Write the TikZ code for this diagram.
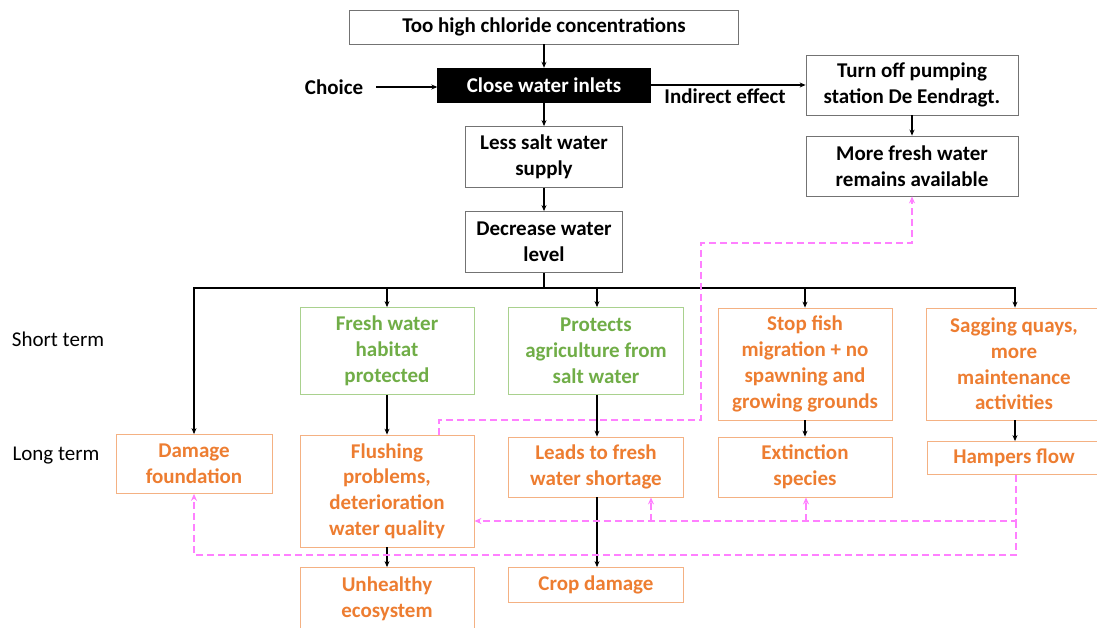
\documentclass[tikz,border=0pt]{standalone}
\usepackage{fontspec}
\setmainfont{Carlito}
\usetikzlibrary{arrows.meta, positioning}
\definecolor{leafgreen}{RGB}{112,173,71}
\definecolor{lightgreen}{RGB}{169,209,142}
\definecolor{rust}{RGB}{237,125,49}
\definecolor{peach}{RGB}{244,177,131}
\definecolor{pinkline}{RGB}{255,128,255}

\begin{document}
\begin{tikzpicture}[x=1pt,y=-1pt,
   >={Stealth[length=6pt,width=5pt]},
   every node/.style={font=\fontsize{21}{25.8}\selectfont\bfseries, align=center, inner sep=2pt},
   box/.style={draw=black!55, line width=0.8pt},
   blackbox/.style={fill=black, draw=black, text=white},
   greenbox/.style={draw=lightgreen, line width=0.8pt, text=leafgreen},
   orangebox/.style={draw=peach, line width=0.8pt, text=rust},
   flow/.style={->, line width=1.5pt},
   bus/.style={->, line width=2pt},
   pinkarrow/.style={-{Stealth[length=7pt,width=6pt]}, pinkline, line width=1.6pt, dash pattern=on 7pt off 4pt}]
   \useasboundingbox (0,0) rectangle (1097,628);
   \clip (0,0) rectangle (1097,628);
   % top chain
   \node[box, minimum width=389, minimum height=34] (chloride) at (544,27) {Too high chloride concentrations};
   \node[blackbox, minimum width=213, minimum height=34] (close) at (544,85) {Close water inlets};
   \node (choice) at (334,87) {Choice};
   \node[box, minimum width=212, minimum height=60] (pump) at (912,85) {Turn off pumping\\station De Eendragt.};
   \node[box, minimum width=212, minimum height=60] (morefresh) at (912,166) {More fresh water\\remains available};
   \node[box, minimum width=157, minimum height=61] (lesssalt) at (544,157) {Less salt water\\supply};
   \node[box, minimum width=157, minimum height=61] (decrease) at (544,242) {Decrease water\\level};
   % row labels
   \node[font=\fontsize{21}{25.8}\selectfont] (shortterm) at (58,339) {Short term};
   \node[font=\fontsize{21}{25.8}\selectfont] (longterm) at (56,456) {Long term};
   % short term
   \node[greenbox, minimum width=174, minimum height=87] (fresh) at (387,351) {Fresh water\\habitat\\protected};
   \node[greenbox, minimum width=175, minimum height=87] (protects) at (596,351) {Protects\\agriculture from\\salt water};
   \node[orangebox, minimum width=174, minimum height=112] (stopfish) at (805,364) {Stop fish\\migration + no\\spawning and\\growing grounds};
   \node[orangebox, minimum width=175, minimum height=112] (sagging) at (1014,364) {Sagging quays,\\more\\maintenance\\activities};
   % long term
   \node[orangebox, minimum width=156, minimum height=59] (damage) at (194,464) {Damage\\foundation};
   \node[orangebox, minimum width=174, minimum height=112] (flushing) at (387,491) {Flushing\\problems,\\deterioration\\water quality};
   \node[orangebox, minimum width=175, minimum height=60] (shortage) at (596,467) {Leads to fresh\\water shortage};
   \node[orangebox, minimum width=174, minimum height=60] (extinction) at (805,467) {Extinction\\species};
   \node[orangebox, minimum width=173, minimum height=33] (hampers) at (1014,458) {Hampers flow};
   \node[orangebox, minimum width=174, minimum height=63] (unhealthy) at (387,599) {Unhealthy\\ecosystem};
   \node[orangebox, minimum width=175, minimum height=35] (crop) at (596,585) {Crop damage};
   % black connectors
   \draw[flow] (chloride) -- (close);
   \draw[flow] ([xshift=11pt]choice.east) -- (choice.east -| close.west);
   \draw[flow] (close.east) -- (close.east -| pump.west) node[pos=0.48, below=1pt] {Indirect effect};
   \draw[flow] (close) -- (lesssalt);
   \draw[flow] (lesssalt) -- (decrease);
   \draw[flow] (pump) -- (morefresh);
   \coordinate (split) at (544,288);
   \draw[line width=2pt] (decrease.south) -- (split);
   \draw[bus] (split) -| (damage.north);
   \draw[bus] (split) -| (fresh.north);
   \draw[bus] (split) -| ([xshift=1pt]protects.north);
   \draw[bus] (split) -| (stopfish.north);
   \draw[bus] (split) -| ([xshift=1pt]sagging.north);
   \draw[flow] (fresh) -- (flushing);
   \draw[flow] (flushing) -- (unhealthy);
   \draw[flow] ([xshift=1pt]protects.south) -- ([xshift=1pt]shortage.north);
   \draw[flow] ([xshift=1pt]shortage.south) -- ([xshift=1pt]crop.north);
   \draw[flow] (stopfish) -- (extinction);
   \draw[flow] ([xshift=1pt]sagging.south) -- ([xshift=1pt]hampers.north);
   % indirect links
   \coordinate (up) at (701,420);
   \coordinate (over) at (701,243);
   \draw[pinkarrow] ([xshift=52pt]flushing.north) |- (up) -- (over) -| (morefresh.south);
   \coordinate (joint) at (1016,521);
   \coordinate (branch) at (651,521);
   \coordinate (low) at (1016,555);
   \draw[pinkarrow] ([xshift=2pt]hampers.south) -- (joint) -- (joint -| flushing.east);
   \draw[pinkarrow] (branch) -- (branch |- shortage.south);
   \draw[pinkarrow] ([xshift=1pt]extinction.south |- joint) -- ([xshift=1pt]extinction.south);
   \draw[pinkarrow] (joint) -- (low) -| (damage.south);
\end{tikzpicture}
\end{document}
